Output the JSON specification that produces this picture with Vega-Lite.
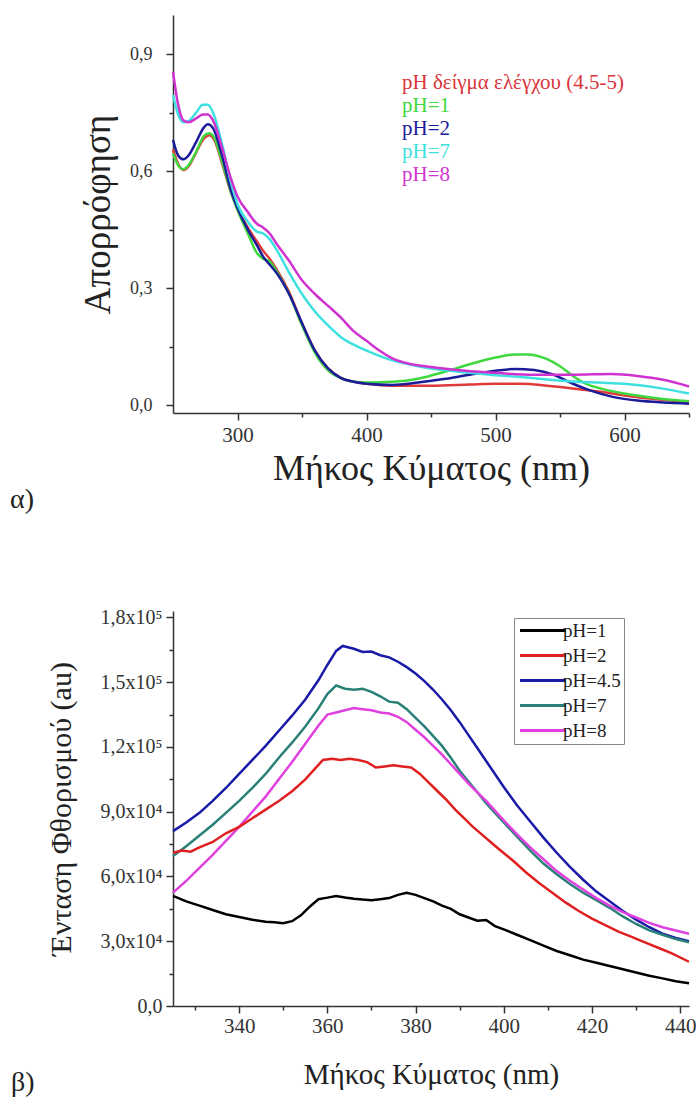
{
  "$schema": "https://vega.github.io/schema/vega-lite/v6.json",
  "padding": {"left": 10, "top": 15, "right": 0, "bottom": 0},
  "config": {
    "font": "Liberation Serif",
    "view": {"stroke": null},
    "axis": {"grid": false, "domainColor": "#333", "tickColor": "#333", "labelColor": "#333", "titleColor": "#222", "labelFont": "Liberation Serif", "titleFont": "Liberation Serif", "titleFontWeight": "normal", "domainWidth": 1.5, "tickWidth": 1.5},
    "legend": {"labelFont": "Liberation Serif"},
    "title": {"font": "Liberation Serif", "fontWeight": "normal", "color": "#222"},
    "concat": {"spacing": 93}
  },
  "datasets": {
    "abs": [
      {"s":"pH δείγμα ελέγχου (4.5-5)","nm":250,"A":0.655},{"s":"pH δείγμα ελέγχου (4.5-5)","nm":255,"A":0.612},{"s":"pH δείγμα ελέγχου (4.5-5)","nm":258,"A":0.603},{"s":"pH δείγμα ελέγχου (4.5-5)","nm":262,"A":0.612},{"s":"pH δείγμα ελέγχου (4.5-5)","nm":268,"A":0.648},{"s":"pH δείγμα ελέγχου (4.5-5)","nm":274,"A":0.684},{"s":"pH δείγμα ελέγχου (4.5-5)","nm":278,"A":0.692},{"s":"pH δείγμα ελέγχου (4.5-5)","nm":282,"A":0.68},{"s":"pH δείγμα ελέγχου (4.5-5)","nm":288,"A":0.62},{"s":"pH δείγμα ελέγχου (4.5-5)","nm":295,"A":0.545},{"s":"pH δείγμα ελέγχου (4.5-5)","nm":300,"A":0.505},{"s":"pH δείγμα ελέγχου (4.5-5)","nm":308,"A":0.455},{"s":"pH δείγμα ελέγχου (4.5-5)","nm":315,"A":0.42},{"s":"pH δείγμα ελέγχου (4.5-5)","nm":320,"A":0.395},{"s":"pH δείγμα ελέγχου (4.5-5)","nm":325,"A":0.375},{"s":"pH δείγμα ελέγχου (4.5-5)","nm":330,"A":0.35},{"s":"pH δείγμα ελέγχου (4.5-5)","nm":340,"A":0.29},{"s":"pH δείγμα ελέγχου (4.5-5)","nm":350,"A":0.21},{"s":"pH δείγμα ελέγχου (4.5-5)","nm":360,"A":0.14},{"s":"pH δείγμα ελέγχου (4.5-5)","nm":370,"A":0.095},{"s":"pH δείγμα ελέγχου (4.5-5)","nm":380,"A":0.07},{"s":"pH δείγμα ελέγχου (4.5-5)","nm":390,"A":0.06},{"s":"pH δείγμα ελέγχου (4.5-5)","nm":400,"A":0.055},{"s":"pH δείγμα ελέγχου (4.5-5)","nm":420,"A":0.05},{"s":"pH δείγμα ελέγχου (4.5-5)","nm":450,"A":0.05},{"s":"pH δείγμα ελέγχου (4.5-5)","nm":480,"A":0.053},{"s":"pH δείγμα ελέγχου (4.5-5)","nm":500,"A":0.055},{"s":"pH δείγμα ελέγχου (4.5-5)","nm":520,"A":0.055},{"s":"pH δείγμα ελέγχου (4.5-5)","nm":540,"A":0.05},{"s":"pH δείγμα ελέγχου (4.5-5)","nm":560,"A":0.043},{"s":"pH δείγμα ελέγχου (4.5-5)","nm":580,"A":0.035},{"s":"pH δείγμα ελέγχου (4.5-5)","nm":600,"A":0.025},{"s":"pH δείγμα ελέγχου (4.5-5)","nm":625,"A":0.015},{"s":"pH δείγμα ελέγχου (4.5-5)","nm":650,"A":0.008},
      {"s":"pH=1","nm":250,"A":0.645},{"s":"pH=1","nm":255,"A":0.61},{"s":"pH=1","nm":258,"A":0.605},{"s":"pH=1","nm":262,"A":0.615},{"s":"pH=1","nm":268,"A":0.65},{"s":"pH=1","nm":274,"A":0.69},{"s":"pH=1","nm":278,"A":0.697},{"s":"pH=1","nm":282,"A":0.685},{"s":"pH=1","nm":288,"A":0.625},{"s":"pH=1","nm":295,"A":0.545},{"s":"pH=1","nm":300,"A":0.5},{"s":"pH=1","nm":308,"A":0.44},{"s":"pH=1","nm":315,"A":0.39},{"s":"pH=1","nm":320,"A":0.375},{"s":"pH=1","nm":325,"A":0.368},{"s":"pH=1","nm":330,"A":0.345},{"s":"pH=1","nm":340,"A":0.285},{"s":"pH=1","nm":350,"A":0.205},{"s":"pH=1","nm":360,"A":0.135},{"s":"pH=1","nm":370,"A":0.09},{"s":"pH=1","nm":380,"A":0.07},{"s":"pH=1","nm":390,"A":0.06},{"s":"pH=1","nm":400,"A":0.058},{"s":"pH=1","nm":420,"A":0.06},{"s":"pH=1","nm":440,"A":0.068},{"s":"pH=1","nm":460,"A":0.085},{"s":"pH=1","nm":480,"A":0.105},{"s":"pH=1","nm":500,"A":0.122},{"s":"pH=1","nm":515,"A":0.13},{"s":"pH=1","nm":525,"A":0.13},{"s":"pH=1","nm":540,"A":0.118},{"s":"pH=1","nm":550,"A":0.1},{"s":"pH=1","nm":560,"A":0.075},{"s":"pH=1","nm":570,"A":0.055},{"s":"pH=1","nm":585,"A":0.04},{"s":"pH=1","nm":600,"A":0.03},{"s":"pH=1","nm":625,"A":0.018},{"s":"pH=1","nm":650,"A":0.01},
      {"s":"pH=2","nm":250,"A":0.68},{"s":"pH=2","nm":254,"A":0.64},{"s":"pH=2","nm":258,"A":0.63},{"s":"pH=2","nm":262,"A":0.64},{"s":"pH=2","nm":268,"A":0.675},{"s":"pH=2","nm":274,"A":0.712},{"s":"pH=2","nm":277,"A":0.72},{"s":"pH=2","nm":281,"A":0.71},{"s":"pH=2","nm":288,"A":0.64},{"s":"pH=2","nm":295,"A":0.55},{"s":"pH=2","nm":300,"A":0.505},{"s":"pH=2","nm":308,"A":0.45},{"s":"pH=2","nm":315,"A":0.41},{"s":"pH=2","nm":320,"A":0.38},{"s":"pH=2","nm":325,"A":0.36},{"s":"pH=2","nm":330,"A":0.34},{"s":"pH=2","nm":340,"A":0.285},{"s":"pH=2","nm":350,"A":0.21},{"s":"pH=2","nm":360,"A":0.14},{"s":"pH=2","nm":370,"A":0.095},{"s":"pH=2","nm":380,"A":0.07},{"s":"pH=2","nm":390,"A":0.06},{"s":"pH=2","nm":400,"A":0.055},{"s":"pH=2","nm":420,"A":0.052},{"s":"pH=2","nm":440,"A":0.058},{"s":"pH=2","nm":460,"A":0.067},{"s":"pH=2","nm":480,"A":0.078},{"s":"pH=2","nm":500,"A":0.088},{"s":"pH=2","nm":515,"A":0.093},{"s":"pH=2","nm":530,"A":0.09},{"s":"pH=2","nm":545,"A":0.078},{"s":"pH=2","nm":560,"A":0.055},{"s":"pH=2","nm":575,"A":0.036},{"s":"pH=2","nm":590,"A":0.022},{"s":"pH=2","nm":610,"A":0.012},{"s":"pH=2","nm":630,"A":0.007},{"s":"pH=2","nm":650,"A":0.004},
      {"s":"pH=7","nm":250,"A":0.795},{"s":"pH=7","nm":254,"A":0.745},{"s":"pH=7","nm":258,"A":0.725},{"s":"pH=7","nm":262,"A":0.728},{"s":"pH=7","nm":268,"A":0.75},{"s":"pH=7","nm":273,"A":0.77},{"s":"pH=7","nm":277,"A":0.77},{"s":"pH=7","nm":281,"A":0.75},{"s":"pH=7","nm":288,"A":0.67},{"s":"pH=7","nm":295,"A":0.57},{"s":"pH=7","nm":300,"A":0.515},{"s":"pH=7","nm":308,"A":0.47},{"s":"pH=7","nm":315,"A":0.445},{"s":"pH=7","nm":320,"A":0.44},{"s":"pH=7","nm":325,"A":0.425},{"s":"pH=7","nm":330,"A":0.4},{"s":"pH=7","nm":340,"A":0.34},{"s":"pH=7","nm":350,"A":0.285},{"s":"pH=7","nm":360,"A":0.24},{"s":"pH=7","nm":370,"A":0.205},{"s":"pH=7","nm":380,"A":0.175},{"s":"pH=7","nm":390,"A":0.155},{"s":"pH=7","nm":400,"A":0.14},{"s":"pH=7","nm":420,"A":0.115},{"s":"pH=7","nm":440,"A":0.1},{"s":"pH=7","nm":460,"A":0.09},{"s":"pH=7","nm":480,"A":0.083},{"s":"pH=7","nm":500,"A":0.077},{"s":"pH=7","nm":520,"A":0.072},{"s":"pH=7","nm":540,"A":0.066},{"s":"pH=7","nm":560,"A":0.061},{"s":"pH=7","nm":580,"A":0.058},{"s":"pH=7","nm":600,"A":0.055},{"s":"pH=7","nm":625,"A":0.045},{"s":"pH=7","nm":650,"A":0.03},
      {"s":"pH=8","nm":250,"A":0.855},{"s":"pH=8","nm":254,"A":0.77},{"s":"pH=8","nm":258,"A":0.73},{"s":"pH=8","nm":262,"A":0.725},{"s":"pH=8","nm":268,"A":0.735},{"s":"pH=8","nm":273,"A":0.745},{"s":"pH=8","nm":277,"A":0.745},{"s":"pH=8","nm":281,"A":0.73},{"s":"pH=8","nm":288,"A":0.66},{"s":"pH=8","nm":295,"A":0.58},{"s":"pH=8","nm":300,"A":0.535},{"s":"pH=8","nm":308,"A":0.495},{"s":"pH=8","nm":315,"A":0.465},{"s":"pH=8","nm":320,"A":0.455},{"s":"pH=8","nm":325,"A":0.44},{"s":"pH=8","nm":330,"A":0.415},{"s":"pH=8","nm":340,"A":0.37},{"s":"pH=8","nm":350,"A":0.32},{"s":"pH=8","nm":360,"A":0.285},{"s":"pH=8","nm":370,"A":0.255},{"s":"pH=8","nm":380,"A":0.225},{"s":"pH=8","nm":390,"A":0.19},{"s":"pH=8","nm":400,"A":0.165},{"s":"pH=8","nm":410,"A":0.14},{"s":"pH=8","nm":420,"A":0.12},{"s":"pH=8","nm":435,"A":0.105},{"s":"pH=8","nm":450,"A":0.098},{"s":"pH=8","nm":470,"A":0.09},{"s":"pH=8","nm":500,"A":0.083},{"s":"pH=8","nm":530,"A":0.078},{"s":"pH=8","nm":560,"A":0.078},{"s":"pH=8","nm":590,"A":0.08},{"s":"pH=8","nm":610,"A":0.075},{"s":"pH=8","nm":630,"A":0.065},{"s":"pH=8","nm":650,"A":0.048}
    ],
    "fl": [
      {"s":"pH=4.5","nm":325,"I":81000},{"s":"pH=4.5","nm":328,"I":85000},{"s":"pH=4.5","nm":331,"I":89500},{"s":"pH=4.5","nm":334,"I":95000},{"s":"pH=4.5","nm":337,"I":101000},{"s":"pH=4.5","nm":340,"I":107500},{"s":"pH=4.5","nm":343,"I":114000},{"s":"pH=4.5","nm":346,"I":120500},{"s":"pH=4.5","nm":349,"I":127500},{"s":"pH=4.5","nm":352,"I":134500},{"s":"pH=4.5","nm":355,"I":142000},{"s":"pH=4.5","nm":358,"I":151000},{"s":"pH=4.5","nm":360,"I":158000},{"s":"pH=4.5","nm":362,"I":164500},{"s":"pH=4.5","nm":363.5,"I":166800},{"s":"pH=4.5","nm":366,"I":165500},{"s":"pH=4.5","nm":368,"I":164000},{"s":"pH=4.5","nm":370,"I":164200},{"s":"pH=4.5","nm":372,"I":162500},{"s":"pH=4.5","nm":374,"I":161500},{"s":"pH=4.5","nm":376,"I":159500},{"s":"pH=4.5","nm":378,"I":157000},{"s":"pH=4.5","nm":380,"I":154000},{"s":"pH=4.5","nm":382,"I":150500},{"s":"pH=4.5","nm":384,"I":146500},{"s":"pH=4.5","nm":386,"I":142000},{"s":"pH=4.5","nm":388,"I":137000},{"s":"pH=4.5","nm":390,"I":131500},{"s":"pH=4.5","nm":392,"I":125500},{"s":"pH=4.5","nm":394,"I":119500},{"s":"pH=4.5","nm":396,"I":113500},{"s":"pH=4.5","nm":398,"I":107500},{"s":"pH=4.5","nm":400,"I":101500},{"s":"pH=4.5","nm":403,"I":93000},{"s":"pH=4.5","nm":406,"I":85500},{"s":"pH=4.5","nm":409,"I":78000},{"s":"pH=4.5","nm":412,"I":71000},{"s":"pH=4.5","nm":415,"I":64500},{"s":"pH=4.5","nm":418,"I":58500},{"s":"pH=4.5","nm":421,"I":53000},{"s":"pH=4.5","nm":424,"I":48500},{"s":"pH=4.5","nm":427,"I":44000},{"s":"pH=4.5","nm":430,"I":40000},{"s":"pH=4.5","nm":433,"I":36500},{"s":"pH=4.5","nm":436,"I":33500},{"s":"pH=4.5","nm":439,"I":31500},{"s":"pH=4.5","nm":442,"I":30000},
      {"s":"pH=7","nm":325,"I":69500},{"s":"pH=7","nm":328,"I":74000},{"s":"pH=7","nm":331,"I":79000},{"s":"pH=7","nm":334,"I":84000},{"s":"pH=7","nm":337,"I":89500},{"s":"pH=7","nm":340,"I":95000},{"s":"pH=7","nm":343,"I":101000},{"s":"pH=7","nm":346,"I":107500},{"s":"pH=7","nm":349,"I":115000},{"s":"pH=7","nm":352,"I":122000},{"s":"pH=7","nm":355,"I":129500},{"s":"pH=7","nm":358,"I":138000},{"s":"pH=7","nm":360,"I":144500},{"s":"pH=7","nm":362,"I":148500},{"s":"pH=7","nm":364,"I":147000},{"s":"pH=7","nm":366,"I":146500},{"s":"pH=7","nm":368,"I":147000},{"s":"pH=7","nm":370,"I":145500},{"s":"pH=7","nm":372,"I":143500},{"s":"pH=7","nm":374,"I":141000},{"s":"pH=7","nm":376,"I":140500},{"s":"pH=7","nm":378,"I":137500},{"s":"pH=7","nm":380,"I":133500},{"s":"pH=7","nm":382,"I":129500},{"s":"pH=7","nm":384,"I":125000},{"s":"pH=7","nm":386,"I":120500},{"s":"pH=7","nm":388,"I":115000},{"s":"pH=7","nm":390,"I":109000},{"s":"pH=7","nm":392,"I":104000},{"s":"pH=7","nm":394,"I":99000},{"s":"pH=7","nm":396,"I":94000},{"s":"pH=7","nm":398,"I":89500},{"s":"pH=7","nm":400,"I":85000},{"s":"pH=7","nm":403,"I":78500},{"s":"pH=7","nm":406,"I":72000},{"s":"pH=7","nm":409,"I":66000},{"s":"pH=7","nm":412,"I":61000},{"s":"pH=7","nm":415,"I":56500},{"s":"pH=7","nm":418,"I":52500},{"s":"pH=7","nm":421,"I":49000},{"s":"pH=7","nm":424,"I":45500},{"s":"pH=7","nm":427,"I":41500},{"s":"pH=7","nm":430,"I":38000},{"s":"pH=7","nm":433,"I":35000},{"s":"pH=7","nm":436,"I":33000},{"s":"pH=7","nm":439,"I":31000},{"s":"pH=7","nm":442,"I":29500},
      {"s":"pH=8","nm":325,"I":52500},{"s":"pH=8","nm":328,"I":58000},{"s":"pH=8","nm":331,"I":64000},{"s":"pH=8","nm":334,"I":70000},{"s":"pH=8","nm":337,"I":76500},{"s":"pH=8","nm":340,"I":83000},{"s":"pH=8","nm":343,"I":90000},{"s":"pH=8","nm":346,"I":97000},{"s":"pH=8","nm":349,"I":105000},{"s":"pH=8","nm":352,"I":113000},{"s":"pH=8","nm":355,"I":121500},{"s":"pH=8","nm":358,"I":130000},{"s":"pH=8","nm":360,"I":135000},{"s":"pH=8","nm":362,"I":136000},{"s":"pH=8","nm":364,"I":137000},{"s":"pH=8","nm":366,"I":138000},{"s":"pH=8","nm":368,"I":137500},{"s":"pH=8","nm":370,"I":137000},{"s":"pH=8","nm":372,"I":136000},{"s":"pH=8","nm":374,"I":135500},{"s":"pH=8","nm":376,"I":134000},{"s":"pH=8","nm":378,"I":131500},{"s":"pH=8","nm":380,"I":128000},{"s":"pH=8","nm":382,"I":124500},{"s":"pH=8","nm":384,"I":120500},{"s":"pH=8","nm":386,"I":116500},{"s":"pH=8","nm":388,"I":112000},{"s":"pH=8","nm":390,"I":107500},{"s":"pH=8","nm":392,"I":103000},{"s":"pH=8","nm":394,"I":99000},{"s":"pH=8","nm":396,"I":95000},{"s":"pH=8","nm":398,"I":90500},{"s":"pH=8","nm":400,"I":86000},{"s":"pH=8","nm":403,"I":79500},{"s":"pH=8","nm":406,"I":73500},{"s":"pH=8","nm":409,"I":68000},{"s":"pH=8","nm":412,"I":62500},{"s":"pH=8","nm":415,"I":58000},{"s":"pH=8","nm":418,"I":54000},{"s":"pH=8","nm":421,"I":50000},{"s":"pH=8","nm":424,"I":46500},{"s":"pH=8","nm":427,"I":43500},{"s":"pH=8","nm":430,"I":41000},{"s":"pH=8","nm":433,"I":38500},{"s":"pH=8","nm":436,"I":36500},{"s":"pH=8","nm":439,"I":35000},{"s":"pH=8","nm":442,"I":33500},
      {"s":"pH=2","nm":325,"I":71000},{"s":"pH=2","nm":327,"I":72000},{"s":"pH=2","nm":329,"I":71500},{"s":"pH=2","nm":331,"I":73500},{"s":"pH=2","nm":334,"I":76000},{"s":"pH=2","nm":337,"I":80000},{"s":"pH=2","nm":340,"I":83000},{"s":"pH=2","nm":343,"I":87000},{"s":"pH=2","nm":346,"I":91000},{"s":"pH=2","nm":349,"I":95000},{"s":"pH=2","nm":352,"I":99500},{"s":"pH=2","nm":355,"I":105000},{"s":"pH=2","nm":357,"I":109500},{"s":"pH=2","nm":359,"I":114000},{"s":"pH=2","nm":361,"I":114500},{"s":"pH=2","nm":363,"I":114000},{"s":"pH=2","nm":365,"I":114500},{"s":"pH=2","nm":367,"I":114000},{"s":"pH=2","nm":369,"I":113000},{"s":"pH=2","nm":371,"I":110500},{"s":"pH=2","nm":373,"I":111000},{"s":"pH=2","nm":375,"I":111500},{"s":"pH=2","nm":377,"I":111000},{"s":"pH=2","nm":379,"I":110500},{"s":"pH=2","nm":381,"I":107500},{"s":"pH=2","nm":383,"I":103500},{"s":"pH=2","nm":385,"I":99500},{"s":"pH=2","nm":387,"I":95500},{"s":"pH=2","nm":389,"I":91000},{"s":"pH=2","nm":391,"I":87000},{"s":"pH=2","nm":393,"I":83000},{"s":"pH=2","nm":395,"I":79500},{"s":"pH=2","nm":397,"I":76000},{"s":"pH=2","nm":399,"I":72500},{"s":"pH=2","nm":402,"I":67500},{"s":"pH=2","nm":405,"I":62000},{"s":"pH=2","nm":408,"I":57000},{"s":"pH=2","nm":411,"I":52500},{"s":"pH=2","nm":414,"I":48000},{"s":"pH=2","nm":417,"I":44000},{"s":"pH=2","nm":420,"I":40500},{"s":"pH=2","nm":423,"I":37500},{"s":"pH=2","nm":426,"I":34500},{"s":"pH=2","nm":429,"I":32000},{"s":"pH=2","nm":432,"I":29500},{"s":"pH=2","nm":435,"I":27000},{"s":"pH=2","nm":438,"I":24500},{"s":"pH=2","nm":442,"I":20500},
      {"s":"pH=1","nm":325,"I":51000},{"s":"pH=1","nm":328,"I":48500},{"s":"pH=1","nm":331,"I":46500},{"s":"pH=1","nm":334,"I":44500},{"s":"pH=1","nm":337,"I":42500},{"s":"pH=1","nm":340,"I":41200},{"s":"pH=1","nm":343,"I":40000},{"s":"pH=1","nm":346,"I":39000},{"s":"pH=1","nm":348,"I":38800},{"s":"pH=1","nm":350,"I":38300},{"s":"pH=1","nm":352,"I":39300},{"s":"pH=1","nm":354,"I":42000},{"s":"pH=1","nm":356,"I":46000},{"s":"pH=1","nm":358,"I":49500},{"s":"pH=1","nm":360,"I":50200},{"s":"pH=1","nm":362,"I":51000},{"s":"pH=1","nm":364,"I":50300},{"s":"pH=1","nm":366,"I":49700},{"s":"pH=1","nm":368,"I":49300},{"s":"pH=1","nm":370,"I":49000},{"s":"pH=1","nm":372,"I":49500},{"s":"pH=1","nm":374,"I":50000},{"s":"pH=1","nm":376,"I":51500},{"s":"pH=1","nm":378,"I":52500},{"s":"pH=1","nm":380,"I":51500},{"s":"pH=1","nm":382,"I":50000},{"s":"pH=1","nm":384,"I":48500},{"s":"pH=1","nm":386,"I":46500},{"s":"pH=1","nm":388,"I":45000},{"s":"pH=1","nm":390,"I":42500},{"s":"pH=1","nm":392,"I":41000},{"s":"pH=1","nm":394,"I":39500},{"s":"pH=1","nm":396,"I":39800},{"s":"pH=1","nm":398,"I":37000},{"s":"pH=1","nm":400,"I":35500},{"s":"pH=1","nm":403,"I":33000},{"s":"pH=1","nm":406,"I":30500},{"s":"pH=1","nm":409,"I":28000},{"s":"pH=1","nm":412,"I":25500},{"s":"pH=1","nm":415,"I":23500},{"s":"pH=1","nm":418,"I":21500},{"s":"pH=1","nm":421,"I":20000},{"s":"pH=1","nm":424,"I":18500},{"s":"pH=1","nm":427,"I":17000},{"s":"pH=1","nm":430,"I":15500},{"s":"pH=1","nm":433,"I":14000},{"s":"pH=1","nm":436,"I":12800},{"s":"pH=1","nm":439,"I":11500},{"s":"pH=1","nm":442,"I":10500}
    ]
  },
  "vconcat": [
    {
      "width": 516,
      "height": 398,
      "data": {"name": "abs"},
      "title": {"text": "α)", "orient": "bottom", "anchor": "start", "frame": "group", "dx": -163, "fontSize": 28, "offset": 0, "font": "Liberation Serif"},
      "mark": {"type": "line", "strokeWidth": 2.5, "interpolate": "monotone"},
      "encoding": {
        "x": {
          "field": "nm", "type": "quantitative",
          "scale": {"domain": [250, 650], "nice": false, "zero": false},
          "axis": {
            "values": [300, 350, 400, 450, 500, 550, 600, 650],
            "labelExpr": "datum.value % 100 == 0 ? datum.label : ''",
            "tickSize": {"condition": {"test": "datum.value % 100 != 0", "value": 4}, "value": 7},
            "labelFontSize": 21, "labelPadding": 4, "labelFont": "Liberation Serif",
            "title": "Μήκος Κύματος (nm)", "titleFontSize": 36, "titlePadding": 6, "titleFont": "Liberation Serif"
          }
        },
        "y": {
          "field": "A", "type": "quantitative",
          "scale": {"domain": [-0.02, 1.0], "nice": false, "zero": false},
          "axis": {
            "values": [0, 0.15, 0.3, 0.45, 0.6, 0.75, 0.9],
            "labelExpr": "round(datum.value*100) % 30 == 0 ? replace(format(datum.value, '.1f'), '.', ',') : ''",
            "tickSize": {"condition": {"test": "round(datum.value*100) % 30 != 0", "value": 4}, "value": 7},
            "labelFontSize": 18, "labelPadding": 14, "labelFont": "Liberation Serif",
            "title": "Απορρόφηση", "titleFontSize": 37, "titlePadding": 12, "titleFont": "Liberation Serif"
          }
        },
        "color": {
          "field": "s", "type": "nominal",
          "scale": {"domain": ["pH δείγμα ελέγχου (4.5-5)", "pH=1", "pH=2", "pH=7", "pH=8"], "range": ["#e03a3a", "#3fd83f", "#1c1c9a", "#3ee0e0", "#d032d0"]},
          "legend": {
            "orient": "none", "legendX": 208, "legendY": 57, "title": null,
            "symbolSize": 0, "symbolStrokeWidth": 0, "symbolOpacity": 0, "labelOffset": 0,
            "labelFont": "Liberation Serif", "labelFontSize": 21, "rowPadding": 1, "padding": 0, "labelLimit": 400,
            "encode": {"labels": {"update": {"font": {"value": "Liberation Serif"}, "fontSize": {"value": 21}, "fill": {"signal": "datum.value === 'pH=1' ? '#3fd93f' : datum.value === 'pH=2' ? '#1c1c9a' : datum.value === 'pH=7' ? '#3ee0e0' : datum.value === 'pH=8' ? '#cf35cf' : '#d9343a'"}}}}
          }
        }
      }
    },
    {
      "width": 516,
      "height": 395,
      "data": {"name": "fl"},
      "title": {"text": "β)", "orient": "bottom", "anchor": "start", "frame": "group", "dx": -162, "fontSize": 28, "offset": -20, "font": "Liberation Serif"},
      "mark": {"type": "line", "strokeWidth": 2.5},
      "encoding": {
        "x": {
          "field": "nm", "type": "quantitative",
          "scale": {"domain": [325, 442], "nice": false, "zero": false},
          "axis": {
            "values": [330, 340, 350, 360, 370, 380, 390, 400, 410, 420, 430, 440],
            "labelExpr": "datum.value % 20 == 0 ? datum.label : ''",
            "tickSize": {"condition": {"test": "datum.value % 20 != 0", "value": 4}, "value": 7},
            "labelFontSize": 21, "labelPadding": 2, "labelFont": "Liberation Serif",
            "title": "Μήκος Κύματος (nm)", "titleFontSize": 29, "titlePadding": 24, "titleFont": "Liberation Serif"
          }
        },
        "y": {
          "field": "I", "type": "quantitative",
          "scale": {"domain": [0, 183000], "nice": false, "zero": false},
          "axis": {
            "values": [0, 15000, 30000, 45000, 60000, 75000, 90000, 105000, 120000, 135000, 150000, 165000, 180000],
            "labelExpr": "datum.value % 30000 != 0 ? '' : datum.value == 0 ? '0,0' : datum.value < 100000 ? replace(format(datum.value/10000, '.1f'), '.', ',') + 'x10⁴' : replace(format(datum.value/100000, '.1f'), '.', ',') + 'x10⁵'",
            "tickSize": {"condition": {"test": "datum.value % 30000 != 0", "value": 4}, "value": 7},
            "labelFontSize": 20, "labelPadding": 4, "labelFont": "Liberation Serif",
            "title": "Ένταση Φθορισμού (au)", "titleFontSize": 30, "titlePadding": 24, "titleFont": "Liberation Serif"
          }
        },
        "color": {
          "field": "s", "type": "nominal",
          "scale": {"domain": ["pH=1", "pH=2", "pH=4.5", "pH=7", "pH=8"], "range": ["#000000", "#e02020", "#1a1aa8", "#2a8077", "#e040e0"]},
          "legend": {
            "orient": "none", "legendX": 341, "legendY": 7, "title": null,
            "symbolType": "M-1.3,0H7.9", "symbolSize": 100, "symbolStrokeWidth": 3,
            "labelOffset": 27, "labelFont": "Liberation Serif", "labelFontSize": 19, "labelColor": "#222",
            "rowPadding": 5, "padding": 3, "strokeColor": "#888", "fillColor": "white"
          }
        }
      }
    }
  ],
  "resolve": {"scale": {"color": "independent", "x": "independent", "y": "independent"}, "legend": {"color": "independent"}}
}
